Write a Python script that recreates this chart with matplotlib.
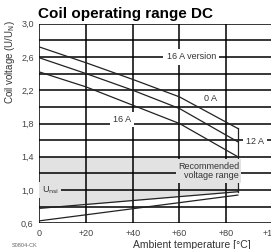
import matplotlib
matplotlib.use('Agg')
import matplotlib.pyplot as plt
import numpy as np

plt.rcParams['font.family'] = ['Liberation Sans Narrow', 'Liberation Sans', 'DejaVu Sans']

# upper limit curves (max coil voltage) vs ambient temperature
temps = [0, 20, 40, 60, 85]
u_0a = [2.72, 2.53, 2.33, 2.12, 1.74]
u_12a = [2.59, 2.40, 2.20, 1.98, 1.58]
u_16a = [2.42, 2.24, 2.02, 1.80, 1.40]

# lower curves
temps_low = [0, 85]
u_low_hi = [0.78, 0.98]
u_low_lo = [0.63, 0.94]

rec_top = 1.4
yticks = [0.6, 1.0, 1.4, 1.8, 2.2, 2.6, 3.0]
xticks = [0, 20, 40, 60, 80, 100]
xtick_labels = ['0', '+20', '+40', '+60', '+80', '+100']

fig = plt.figure(figsize=(2.71, 2.49), dpi=100)
ax = fig.add_axes([0.145, 0.103, 0.862, 0.802])

# recommended range
ax.fill_between(temps_low, u_low_hi, rec_top, color='#e2e2e2', zorder=1, lw=0)

# grid
for x in range(0, 101, 20):
    ax.axvline(x, color='black', lw=1.1, zorder=2)
for y in np.arange(0.6, 3.01, 0.2):
    ax.axhline(y, color='black', lw=1.1, zorder=2)

lk = dict(color='#222222', lw=0.9, zorder=3)
ax.plot(temps, u_0a, **lk)
ax.plot(temps, u_12a, **lk)
ax.plot(temps, u_16a, **lk)
ax.plot(temps_low, u_low_hi, **lk)
ax.plot(temps_low, u_low_lo, **lk)
ax.plot([85, 85], [u_0a[-1], u_low_hi[-1]], **lk)

ax.set_xlim(0, 100)
ax.set_ylim(0.6, 3.0)
ax.set_xticks(xticks)
ax.set_xticklabels(xtick_labels)
ax.set_yticks(yticks)
ax.set_yticklabels([f'{v:.1f}'.replace('.', ',') for v in yticks])
ax.tick_params(length=0, labelsize=6.5, labelcolor='#444444', pad=4)
for s in ax.spines.values():
    s.set_visible(False)

wb = dict(boxstyle='square,pad=0.35', fc='white', ec='none')
gb = dict(boxstyle='square,pad=0.25', fc='#e2e2e2', ec='none')
tk = dict(fontsize=6.5, color='#333333', zorder=4)
ax.text(65, 2.60, '16 A version', ha='center', va='center', bbox=wb, **tk)
ax.text(73.5, 2.10, '0 A', ha='center', va='center', bbox=wb, **tk)
ax.text(35.5, 1.85, '16 A', ha='center', va='center', bbox=wb, **tk)
ax.text(88.5, 1.58, '12 A', ha='left', va='center', bbox=wb, **tk)
ax.text(1.0, 1.0, 'U$_{\\mathrm{nsi}}$', ha='left', va='center', bbox=gb, **tk)
ax.text(85.5, 1.23, 'Recommended\nvoltage range', ha='right', va='center',
        multialignment='right', linespacing=1.1, bbox=gb, **tk)

fig.text(0.14, 0.944, 'Coil operating range DC', fontsize=11, fontweight='bold',
         family=['Liberation Sans', 'DejaVu Sans'], ha='left', va='center')
fig.text(0.037, 0.92, 'Coil voltage (U/U$_\\mathrm{N}$)', fontsize=7, rotation=90,
         ha='center', va='top', color='#333333')
fig.text(0.49, 0.018, 'Ambient temperature [°C]', fontsize=7.5, ha='left',
         va='center', color='#333333')
fig.text(0.045, 0.015, 'S0804-CK', fontsize=4, ha='left', va='center', color='#666666')

fig.savefig('out.png', dpi=100)
